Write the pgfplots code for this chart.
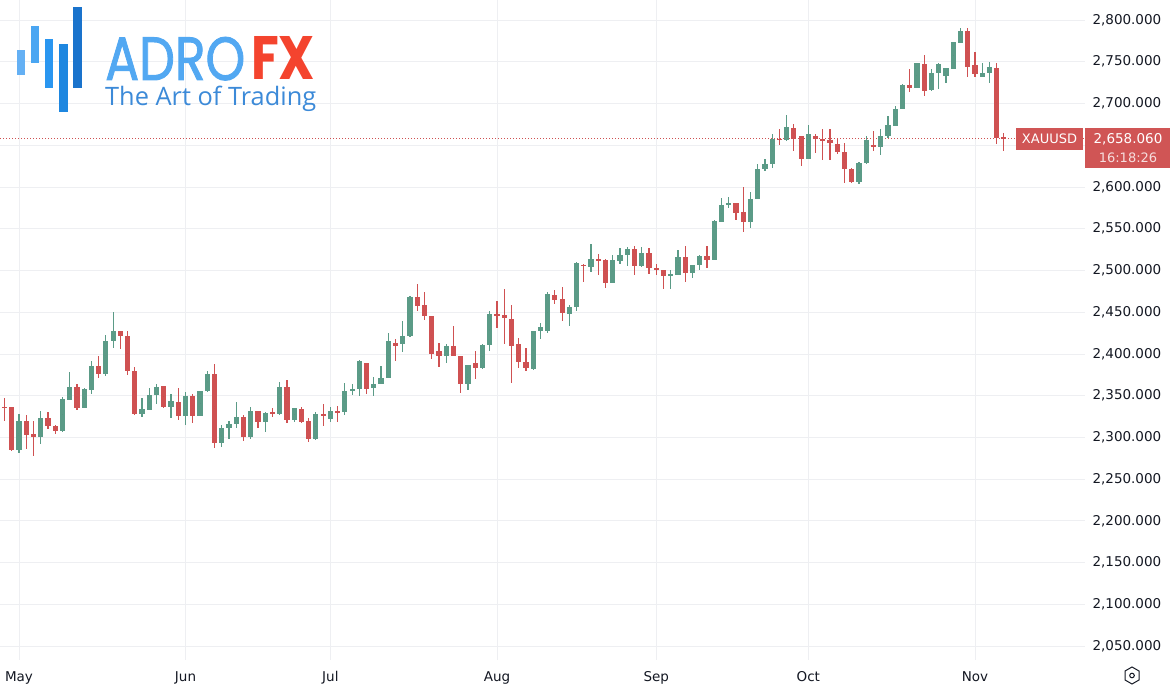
\documentclass[border=0pt]{standalone}
\usepackage{pgfplots}
\pgfplotsset{compat=1.18}
\usepackage{pgfplotstable}
\usepackage{graphicx}
\usepackage{fontspec}
\setmainfont{DejaVu Sans}
\newfontfamily\logofont{Poppins}[FakeBold=1.6]
\newfontfamily\logofontb{Poppins}
\newfontfamily\tagfont{Open Sans}
\definecolor{cred}{HTML}{CF5152}
\definecolor{cgreen}{HTML}{5B9B87}
\definecolor{gridc}{HTML}{EEEFF2}
\definecolor{txt}{HTML}{131722}
\definecolor{boxred}{HTML}{D05555}
\definecolor{lb1}{HTML}{64B0F4}
\definecolor{lb2}{HTML}{4AA6F2}
\definecolor{lb3}{HTML}{2A96F0}
\definecolor{lb4}{HTML}{1E87E0}
\definecolor{lb5}{HTML}{1A73CC}
\definecolor{adro}{HTML}{52A8F2}
\definecolor{fx}{HTML}{F4442E}
\definecolor{tagc}{HTML}{3C8AD8}

\pgfplotstableread{
k o h l c
0 2337 2347 2320 2335
1 2336 2337 2284 2285
3 2320 2327 2286 2303
4 2304 2320 2278 2301
6 2323 2330 2310 2314
7 2314 2315 2304 2308
10 2360 2364 2333 2335
13 2386 2398 2371 2376
16 2427 2428 2406 2421
17 2421 2427 2375 2379
18 2380 2384 2327 2328
22 2361 2362 2335 2337
24 2343 2359 2321 2326
26 2350 2352 2317 2326
29 2376 2388 2287 2293
33 2325 2327 2296 2300
35 2332 2332 2311 2319
37 2330 2335 2324 2328
39 2360 2369 2317 2321
41 2334 2337 2317 2319
42 2320 2323 2294 2298
44 2328 2340 2314 2326
46 2332 2338 2319 2330
50 2389 2389 2352 2358
54 2413 2418 2392 2410
57 2468 2484 2452 2458
58 2459 2474 2441 2445
59 2445 2445 2394 2400
60 2404 2413 2384 2397
62 2409 2433 2397 2397
63 2397 2397 2353 2364
65 2389 2404 2370 2383
68 2448 2463 2431 2446
69 2447 2478 2412 2443
70 2442 2459 2365 2410
71 2412 2419 2383 2390
72 2390 2407 2380 2383
76 2471 2477 2460 2465
77 2466 2480 2439 2449
80 2507 2508 2486 2505
82 2514 2520 2494 2512
83 2513 2514 2479 2485
87 2526 2529 2494 2505
89 2521 2527 2496 2503
90 2503 2508 2494 2500
91 2500 2500 2478 2493
94 2516 2529 2486 2497
97 2517 2529 2503 2512
101 2581 2581 2561 2569
102 2570 2600 2546 2558
107 2658 2670 2650 2656
109 2671 2675 2643 2658
110 2661 2661 2625 2634
112 2661 2663 2641 2658
113 2658 2670 2632 2655
114 2656 2670 2632 2653
115 2651 2659 2639 2642
116 2642 2653 2605 2621
117 2621 2623 2605 2606
120 2650 2667 2643 2648
125 2722 2741 2714 2718
127 2747 2758 2709 2715
133 2787 2790 2732 2744
134 2746 2762 2732 2735
137 2743 2749 2652 2659
138 2660 2665 2643 2658
}\redtab

\pgfplotstableread{
k o h l c
2 2285 2328 2281 2320
5 2301 2332 2292 2323
8 2308 2348 2307 2346
9 2345 2378 2345 2360
11 2335 2359 2335 2358
12 2357 2391 2352 2386
14 2376 2423 2374 2415
15 2415 2450 2407 2427
19 2328 2347 2325 2334
20 2333 2359 2333 2351
21 2351 2364 2340 2360
23 2337 2352 2323 2343
25 2326 2354 2315 2350
27 2326 2356 2326 2356
28 2356 2379 2354 2376
30 2293 2315 2288 2311
31 2311 2320 2298 2316
32 2316 2342 2311 2325
34 2300 2336 2298 2332
36 2319 2330 2307 2329
38 2328 2366 2327 2360
40 2321 2335 2319 2335
43 2298 2330 2297 2328
45 2322 2337 2319 2332
47 2330 2365 2327 2356
48 2356 2364 2351 2358
49 2358 2393 2349 2391
51 2359 2372 2349 2364
52 2364 2386 2364 2371
53 2371 2425 2371 2416
55 2412 2440 2402 2421
56 2422 2469 2420 2468
61 2397 2412 2389 2409
64 2364 2387 2357 2387
66 2383 2412 2382 2411
67 2411 2451 2404 2448
73 2382 2428 2381 2428
74 2428 2437 2418 2432
75 2428 2474 2425 2472
78 2448 2459 2433 2456
79 2456 2510 2451 2509
81 2504 2532 2498 2514
84 2485 2518 2485 2513
85 2511 2527 2508 2518
86 2518 2528 2505 2526
88 2505 2528 2504 2521
92 2493 2501 2478 2496
93 2495 2524 2495 2516
95 2497 2507 2491 2507
96 2507 2518 2501 2517
98 2513 2561 2512 2559
99 2558 2587 2558 2578
100 2579 2588 2575 2581
103 2558 2594 2551 2586
104 2586 2627 2585 2622
105 2621 2634 2619 2628
106 2628 2664 2623 2658
108 2656 2686 2655 2672
111 2633 2674 2633 2664
118 2606 2630 2604 2629
119 2629 2661 2628 2656
121 2648 2669 2638 2661
122 2661 2685 2659 2674
123 2673 2697 2673 2694
124 2693 2723 2693 2722
126 2719 2749 2719 2749
128 2716 2741 2715 2736
129 2736 2749 2717 2747
130 2733 2743 2725 2742
131 2741 2774 2741 2774
132 2773 2790 2772 2787
135 2732 2749 2732 2737
136 2737 2750 2725 2744
}\greentab

\pgfplotsset{
  wick/.style={only marks, mark size=0pt, mark options={draw=none, fill=none}, forget plot,
    error bars/.cd, y dir=both, y explicit, error mark=none,
    error bar style={draw=#1, line width=1.2pt}},
  body/.style={only marks, mark size=0pt, mark options={draw=none, fill=none}, forget plot,
    error bars/.cd, y dir=both, y explicit, error mark=none,
    error bar style={draw=#1, line width=5.2pt}},
}

\begin{document}
\begin{tikzpicture}
\path[use as bounding box] (0pt,0pt) rectangle (1170pt,694pt);
\begin{axis}[
  at={(0pt,34pt)}, anchor=south west,
  width=1085pt, height=660pt, scale only axis,
  xmin=-0.62, xmax=149.2,
  ymin=2033.3, ymax=2824,
  axis line style={draw=none},
  tick style={draw=none},
  major tick length=0pt,
  xtick={2,25,45,68,90,111,134},
  xticklabels={May,Jun,Jul,Aug,Sep,Oct,Nov},
  ytick={2050,2100,2150,2200,2250,2300,2350,2400,2450,2500,2550,2600,2700,2750,2800},
  extra y ticks={2650},
  extra y tick labels={},
  extra y tick style={grid=major},
  yticklabel pos=right,
  grid=major,
  major grid style={draw=gridc, line width=0.8pt},
  ticklabel style={font=\fontsize{13.5}{15}\selectfont, text=txt},
  xticklabel style={yshift=-8pt},
  yticklabel style={anchor=west, xshift=4pt,
    /pgf/number format/.cd, fixed, fixed zerofill, precision=3,
    1000 sep={,}, assume math mode=true},
  clip=true,
]
% price line
\addplot[cred, line width=1pt, dash pattern=on 1pt off 2pt, forget plot]
  coordinates {(-1,2658.06) (150,2658.06)};
% red candles
\addplot[wick=cred] table[x=k, y expr={(\thisrow{h}+\thisrow{l})/2},
  y error expr={(\thisrow{h}-\thisrow{l})/2}] {\redtab};
\addplot[body=cred] table[x=k, y expr={(\thisrow{o}+\thisrow{c})/2},
  y error expr={max(abs(\thisrow{o}-\thisrow{c})/2,0.6)}] {\redtab};
% green candles
\addplot[wick=cgreen] table[x=k, y expr={(\thisrow{h}+\thisrow{l})/2},
  y error expr={(\thisrow{h}-\thisrow{l})/2}] {\greentab};
\addplot[body=cgreen] table[x=k, y expr={(\thisrow{o}+\thisrow{c})/2},
  y error expr={max(abs(\thisrow{o}-\thisrow{c})/2,0.6)}] {\greentab};
\end{axis}

% price labels
\fill[boxred] (1016pt,544pt) rectangle (1083pt,566pt);
\node[text=white, font=\fontsize{13}{15}\selectfont, inner sep=0] at (1049.5pt,555pt) {XAUUSD};
\fill[boxred] (1085pt,526pt) rectangle (1170pt,566pt);
\node[text=white, font=\fontsize{13.5}{15}\selectfont, inner sep=0] at (1128pt,555pt) {2,658.060};
\node[text=white!80!boxred, font=\fontsize{13}{15}\selectfont, inner sep=0] at (1128pt,536.5pt) {16:18:26};

% settings icon
\draw[txt, line width=1pt] (1132pt,27pt) -- (1139pt,23pt) -- (1139pt,14pt) -- (1132pt,10pt) -- (1125pt,14pt) -- (1125pt,23pt) -- cycle;
\draw[txt, line width=1pt] (1132pt,18.5pt) circle (2.3pt);

% logo
\fill[lb1] (16.7pt,619pt) rectangle (25pt,644pt);
\fill[lb2] (31pt,631pt) rectangle (39pt,668pt);
\fill[lb3] (45pt,606pt) rectangle (53pt,655pt);
\fill[lb4] (59pt,582pt) rectangle (68pt,650pt);
\fill[lb5] (73pt,606pt) rectangle (82pt,687pt);
\node[anchor=base west, inner sep=0, text=adro] at (105pt,614pt) {\resizebox{140pt}{43pt}{\logofont ADRO}};
\node[anchor=base west, inner sep=0, text=fx] at (251pt,614pt) {\resizebox{64pt}{43pt}{\logofontb\bfseries FX}};
\node[anchor=base west, inner sep=0, text=tagc] at (105pt,588pt) {\resizebox{211pt}{!}{\tagfont The Art of Trading}};
\end{tikzpicture}
\end{document}
